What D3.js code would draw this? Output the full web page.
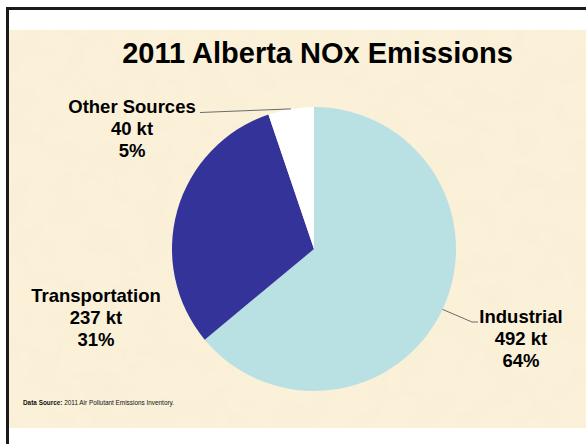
<!DOCTYPE html>
<html>
<head>
<meta charset="utf-8">
<script src="https://cdn.jsdelivr.net/npm/d3@7"></script>
<style>
  html, body { margin: 0; padding: 0; background: #fff; }
  svg { display: block; }
  text { font-family: "Liberation Sans", Arial, sans-serif; }
</style>
</head>
<body>
<div id="chart"></div>
<script>
// Data
const categories = ["Industrial", "Transportation", "Other Sources"];
const emissions = [492, 237, 40];
const shares = ["64%", "31%", "5%"];
const unit = "kt";
const colors = ["#b9e0e3", "#333399", "#ffffff"];

const W = 586, H = 444;
const cx = 314, cy = 249, radius = 142;

const svg = d3.select("#chart")
  .append("svg")
  .attr("width", W)
  .attr("height", H);

// parchment texture
const defs = svg.append("defs");
const f = defs.append("filter").attr("id", "paper")
  .attr("x", 0).attr("y", 0).attr("width", "100%").attr("height", "100%");
f.append("feTurbulence")
  .attr("type", "fractalNoise")
  .attr("baseFrequency", "0.035")
  .attr("numOctaves", 4)
  .attr("seed", 7)
  .attr("result", "noise");
f.append("feColorMatrix")
  .attr("in", "noise")
  .attr("type", "matrix")
  .attr("values", "0 0 0 0 0.92  0 0 0 0 0.85  0 0 0 0 0.66  0.9 0 0 0 -0.33");

svg.append("rect")
  .attr("x", 9).attr("y", 30)
  .attr("width", W - 9).attr("height", 398)
  .attr("fill", "#fbf1d9");
svg.append("rect")
  .attr("x", 9).attr("y", 30)
  .attr("width", W - 9).attr("height", 398)
  .attr("filter", "url(#paper)");

// frame (top and left edges)
svg.append("path")
  .attr("d", `M7.5,${H} V8.5 H${W}`)
  .attr("fill", "none")
  .attr("stroke", "#1a1a1a")
  .attr("stroke-width", 3);

// Title
svg.append("text")
  .attr("x", 317.5)
  .attr("y", 63)
  .attr("text-anchor", "middle")
  .style("font-size", "29px")
  .style("font-weight", "bold")
  .style("fill", "#000")
  .text("2011 Alberta NOx Emissions");

// Pie
const data = categories.map((c, i) => ({ name: c, value: emissions[i], share: shares[i], color: colors[i] }));

const pie = d3.pie()
  .sort(null)
  .value(d => d.value)
  .startAngle(0)
  .endAngle(2 * Math.PI);

const arc = d3.arc().innerRadius(0).outerRadius(radius);
const edgeArc = d3.arc().innerRadius(radius).outerRadius(radius);

const arcs = pie(data);

const g = svg.append("g").attr("transform", `translate(${cx},${cy})`);

g.selectAll("path.slice")
  .data(arcs)
  .enter()
  .append("path")
  .attr("class", "slice")
  .attr("d", arc)
  .attr("fill", d => d.data.color);

// Labels (centre x, first baseline, leader line end)
const labelPos = [
  { x: 521, y: 322.5, lx: 472, ly: 322, lx2: 478 },
  { x: 96, y: 301.5 },
  { x: 132, y: 112.5, lx: 200, ly: 112.5 }
];

arcs.forEach((a, i) => {
  const p = labelPos[i];
  if (p.lx !== undefined) {
    const [ex, ey] = edgeArc.centroid(a);
    const pts = [[cx + ex, cy + ey], [p.lx, p.ly]];
    if (p.lx2 !== undefined) pts.push([p.lx2, p.ly]);
    svg.append("path")
      .attr("d", d3.line()(pts))
      .attr("fill", "none")
      .attr("stroke", "#6b6b6b")
      .attr("stroke-width", 1);
  }
  const t = svg.append("text")
    .attr("text-anchor", "middle")
    .style("font-size", "18.5px")
    .style("font-weight", "bold")
    .style("fill", "#000");
  [a.data.name, `${a.data.value} ${unit}`, a.data.share].forEach((line, j) => {
    t.append("tspan")
      .attr("x", p.x)
      .attr("y", p.y + j * 22)
      .text(line);
  });
});

// Source note
const note = svg.append("text")
  .attr("x", 23)
  .attr("y", 405)
  .style("font-size", "6.4px")
  .style("fill", "#111");
note.append("tspan").style("font-weight", "bold").text("Data Source:");
note.append("tspan").text(" 2011 Air Pollutant Emissions Inventory.");
</script>
</body>
</html>
